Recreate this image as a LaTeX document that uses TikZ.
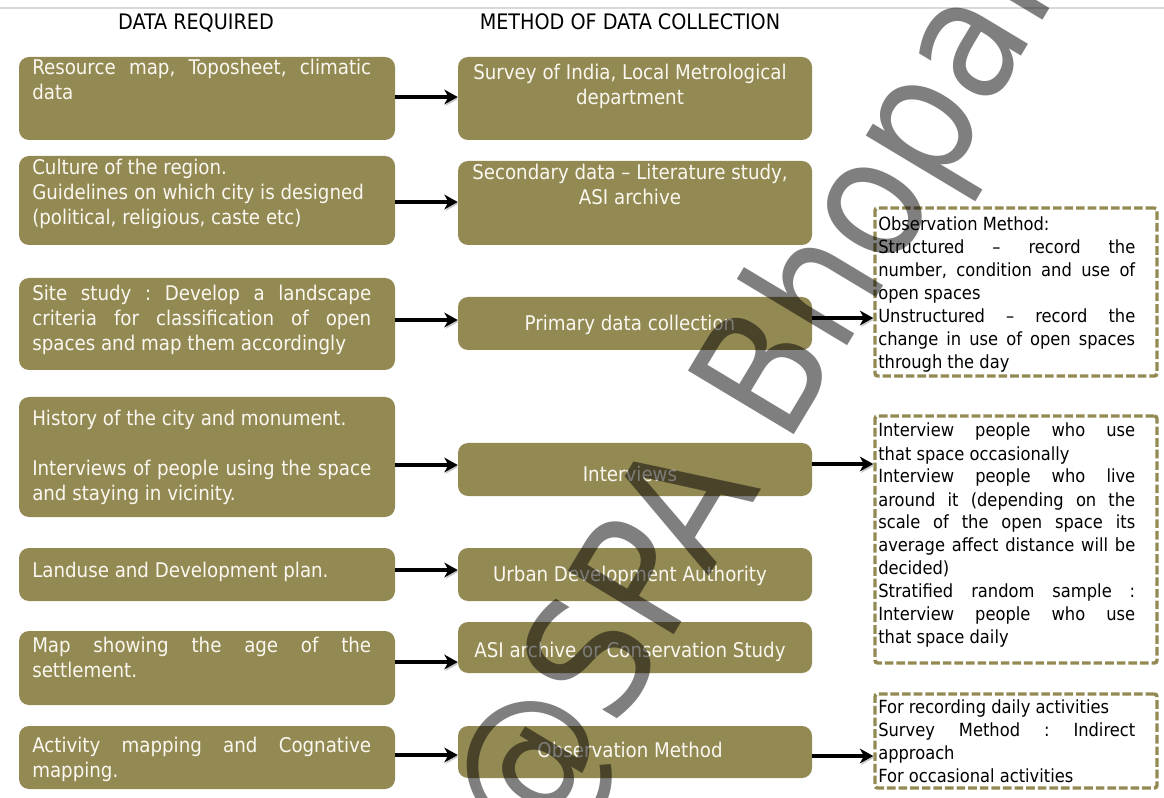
\documentclass[tikz,border=0pt]{standalone}
\usepackage{fontspec}
\setmainfont{DejaVu Sans Condensed}
\usetikzlibrary{arrows.meta,fit}
\definecolor{olivebox}{HTML}{938953}
\definecolor{topline}{HTML}{D9D9D9}
\definecolor{boxtext}{HTML}{FAF8F0}
\frenchspacing
\tikzset{
  box/.style={fill=olivebox, draw=none, rounded corners=7.5pt, inner sep=0pt},
  dbox/.style={draw=olivebox, line width=2.6pt, dash pattern=on 6.5pt off 2.2pt, rounded corners=2pt, inner sep=0pt},
  ltext/.style={anchor=base west, inner sep=0pt, text=boxtext, font=\fontsize{15.2}{18.75}\selectfont},
  mtext/.style={anchor=base, inner sep=0pt, text=boxtext, font=\fontsize{15.2}{18.75}\selectfont},
  rtext/.style={anchor=base west, inner sep=0pt, text=black, font=\fontsize{13.6}{17.25}\selectfont},
  head/.style={anchor=base, inner sep=0pt, text=black, font=\fontsize{16}{18}\selectfont},
  arr/.style={line width=2.5pt, -{Stealth[length=10pt,width=11pt,inset=3pt]},
    preaction={draw=black!22, transform canvas={xshift=0.8pt,yshift=-1.2pt}}},
  wm/.style={rotate=59, inner sep=0pt, text=black, text opacity=0.5, font=\fontsize{127}{127}\selectfont}
}
\newcommand{\lp}[2]{\parbox[t]{#1}{\frenchspacing\hyphenpenalty=10000\tolerance=9999\emergencystretch=20pt #2}}
\newcommand{\cp}[2]{\parbox[t]{#1}{\centering #2}}
\begin{document}
\begin{tikzpicture}[x=0.75pt,y=-0.75pt]
\useasboundingbox (0,0) rectangle (1164,798);
\fill[white] (0,0) rectangle (1164,798);
\draw[topline, line width=1.5pt] (0,8) coordinate (tl1) -- (1164,8) coordinate (tl2);

\node[head] (h1) at (196,30) {DATA REQUIRED};
\node[head] (h2) at (630,30) {METHOD OF DATA COLLECTION};

% left boxes
\node[box, fit={(19,57) (395,140)}] (L1) {};
\node[box, fit={(19,156) (395,245)}] (L2) {};
\node[box, fit={(19,278) (395,370)}] (L3) {};
\node[box, fit={(19,397) (395,517)}] (L4) {};
\node[box, fit={(19,548) (395,601)}] (L5) {};
\node[box, fit={(19,631) (395,705)}] (L6) {};
\node[box, fit={(19,726) (395,789)}] (L7) {};
% middle boxes
\node[box, fit={(458,57) (812,140)}] (M1) {};
\node[box, fit={(458,161) (812,245)}] (M2) {};
\node[box, fit={(458,297) (812,350)}] (M3) {};
\node[box, fit={(458,443) (812,496)}] (M4) {};
\node[box, fit={(458,548) (812,601)}] (M5) {};
\node[box, fit={(458,622) (812,673)}] (M6) {};
\node[box, fit={(458,726) (812,778)}] (M7) {};
% dashed boxes
\node[dbox, fit={(875,208) (1157,376)}] (D1) {};
\node[dbox, fit={(875,416) (1157,663)}] (D2) {};
\node[dbox, fit={(875,694) (1157,788)}] (D3) {};

% left texts
\node[ltext] (L1t) at (32,75) {\lp{254.25pt}{Resource map, Toposheet, climatic\linebreak data}};
\node[ltext] (L2t) at (32,175) {\lp{254.25pt}{Culture of the region.\\ Guidelines on which city is designed\\ (political, religious, caste etc)}};
\node[ltext] (L3t) at (32,301) {\lp{254.25pt}{Site study : Develop a landscape\linebreak criteria for classification of open\linebreak spaces and map them accordingly}};
\node[ltext] (L4t) at (32,426) {\lp{254.25pt}{History of the city and monument.\\ \mbox{}\\ Interviews of people using the space\linebreak and staying in vicinity.}};
\node[ltext] (L5t) at (32,577) {\lp{254.25pt}{Landuse and Development plan.}};
\node[ltext] (L6t) at (32,652) {\lp{254.25pt}{Map showing the age of the\linebreak settlement.}};
\node[ltext] (L7t) at (32,752) {\lp{254.25pt}{Activity mapping and Cognative\linebreak mapping.}};

% middle texts
\node[mtext] (M1t) at (630,80) {\cp{262pt}{Survey of India, Local Metrological\\ department}};
\node[mtext] (M2t) at (630,180) {\cp{262pt}{Secondary data -- Literature study,\\ ASI archive}};
\node[mtext] (M3t) at (630,331) {Primary data collection};
\node[mtext] (M4t) at (630,481) {Interviews};
\node[mtext] (M5t) at (630,581) {Urban Development Authority};
\node[mtext] (M6t) at (630,657) {ASI archive or Conservation Study};
\node[mtext] (M7t) at (630,757) {Observation Method};

% right texts
\node[rtext] (D1t) at (878,231) {\lp{192.75pt}{Observation Method:\\ Structured -- record the\linebreak number, condition and use of\linebreak open spaces\\ Unstructured -- record the\linebreak change in use of open spaces\linebreak through the day}};
\node[rtext] (D2t) at (878,437) {\lp{192.75pt}{Interview people who use\linebreak that space occasionally\\ Interview people who live\linebreak around it (depending on the\linebreak scale of the open space its\linebreak average affect distance will be\linebreak decided)\\ Stratified random sample :\linebreak Interview people who use\linebreak that space daily}};
\node[rtext] (D3t) at (878,713) {\lp{192.75pt}{For recording daily activities\\ Survey Method : Indirect\linebreak approach\\ For occasional activities}};

% arrows
\draw[arr] (L1.east |- 0,97) -- (M1.west |- 0,97);
\draw[arr] (L2.east |- 0,202) -- (M2.west |- 0,202);
\draw[arr] (L3.east |- 0,320) -- (M3.west |- 0,320);
\draw[arr] (L4.east |- 0,465) -- (M4.west |- 0,465);
\draw[arr] (L5.east |- 0,570) -- (M5.west |- 0,570);
\draw[arr] (L6.east |- 0,662) -- (M6.west |- 0,662);
\draw[arr] (L7.east |- 0,755) -- (M7.west |- 0,755);
\draw[arr] (M3.east |- 0,318) -- (D1.west |- 0,318);
\draw[arr] (M4.east |- 0,464) -- (D2.west |- 0,464);
\draw[arr] (M7.east |- 0,756) -- (D3.west |- 0,756);

% watermark
\node[wm] (wm) at (758,404) {@SPA Bhopal};
\end{tikzpicture}
\end{document}
